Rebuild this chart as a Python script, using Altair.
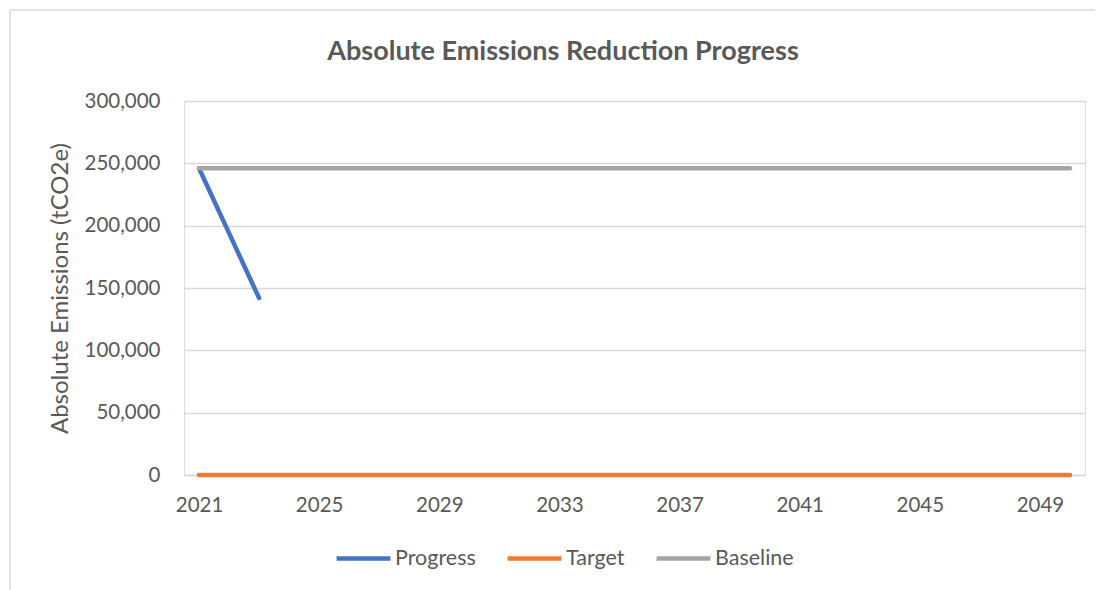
import altair as alt
import pandas as pd

years = list(range(2021, 2051))
progress_years = [2021, 2022, 2023]
progress_values = [246000, 194000, 142000]
target_values = [0] * len(years)
baseline_values = [246000] * len(years)
series_names = ["Progress", "Target", "Baseline"]
series_colors = ["#4472C4", "#ED7D31", "#A5A5A5"]
tick_years = [2021, 2025, 2029, 2033, 2037, 2041, 2045, 2049]
y_ticks = [0, 50000, 100000, 150000, 200000, 250000, 300000]
chart_title = "Absolute Emissions Reduction Progress"

df_p = pd.DataFrame({"year": progress_years, "value": progress_values, "series": "Progress"})
df_t = pd.DataFrame({"year": years, "value": target_values, "series": "Target"})
df_b = pd.DataFrame({"year": years, "value": baseline_values, "series": "Baseline"})

FONT = "Lato"
GREY = "#595959"

x = alt.X("year:O", scale=alt.Scale(domain=years, paddingOuter=0.5),
          axis=alt.Axis(values=tick_years, labelAngle=0, title=None, ticks=False,
                        labelFontSize=20.5, labelColor=GREY, labelFont=FONT, labelPadding=20,
                        domainColor="#d9d9d9", domainWidth=1.3, grid=False))
y = alt.Y("value:Q", scale=alt.Scale(domain=[0, 300000]),
          axis=alt.Axis(values=y_ticks, labelExpr="format(datum.value, ',')",
                        title="Absolute Emissions (tCO2e)", titleFontSize=24, titleFontWeight="normal",
                        titleColor=GREY, titleFont=FONT, titlePadding=12,
                        labelFontSize=20.5, labelColor=GREY, labelFont=FONT, labelPadding=24,
                        ticks=False, domain=False, gridColor="#d9d9d9", gridWidth=1.3))
color = alt.Color("series:N", scale=alt.Scale(domain=series_names, range=series_colors),
                  legend=alt.Legend(title=None, orient="none", direction="horizontal",
                                    legendX=150, legendY=428, symbolType="stroke",
                                    symbolSize=2900, symbolStrokeWidth=4.5,
                                    labelFontSize=21.5, labelColor=GREY, labelFont=FONT,
                                    columnPadding=22, labelOffset=2))

def line(df):
    return alt.Chart(df).mark_line(strokeWidth=4.5, strokeCap="round").encode(x=x, y=y, color=color)

one = pd.DataFrame({"t": [chart_title]})
title_mark = alt.Chart(one).mark_text(font=FONT, fontSize=27, fontWeight="bold", color=GREY,
                                      align="center", baseline="middle").encode(
    text="t:N", x=alt.value(379), y=alt.value(-49))
top_rule = alt.Chart(one).mark_rule(color="#d9d9d9", strokeWidth=1.5).encode(
    x=alt.value(-174), x2=alt.value(940), y=alt.value(-91))
left_rule = alt.Chart(one).mark_rule(color="#d9d9d9", strokeWidth=1.5).encode(
    x=alt.value(-174), y=alt.value(-91), y2=alt.value(500))

chart = alt.layer(line(df_p), line(df_t), line(df_b), title_mark, top_rule, left_rule).properties(
    width=901, height=374,
    padding={"left": 176, "top": 93, "right": 10, "bottom": 115},
    autosize=alt.AutoSizeParams(type="none"),
).configure_view(stroke=None).configure(background="white")

chart.save("out.html", embed_options={"renderer": "svg", "actions": False})
